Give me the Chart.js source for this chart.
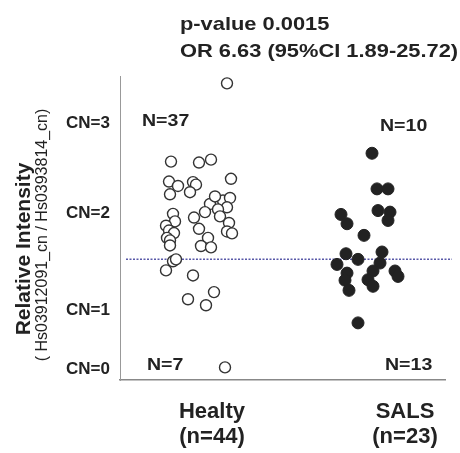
<!DOCTYPE html>
<html>
<head>
<meta charset="utf-8">
<title>Relative Intensity - Healty vs SALS</title>
<script src="https://cdn.jsdelivr.net/npm/chart.js@4.4.0/dist/chart.umd.min.js"></script>
<style>
    html, body { margin: 0; padding: 0; background: #fff; }
    canvas { display: block; }
</style>
</head>
<body>
<canvas id="cnChart" width="460" height="453"></canvas>
<script>
/* ============================================================================
   Data
   ============================================================================ */

const categories = ["Healty", "SALS"];
const groupSizes = [44, 23];
const categoryX = [0.92, 2.85];

// jittered x positions + relative intensity of every sample
const healthyX = [1.07, 0.51, 0.79, 0.91, 0.49, 0.58, 0.73, 0.76, 1.11, 0.50,
                  0.70, 0.96, 0.90, 1.03, 1.10, 1.07, 0.85, 0.98, 0.53, 0.55,
                  0.74, 1.00, 0.46, 0.49, 0.54, 0.79, 1.09, 0.47, 0.50, 1.07,
                  1.12, 0.88, 0.50, 0.81, 0.91, 0.53, 0.56, 0.46, 0.73, 0.94,
                  0.68, 0.86, 1.05, 0.95];
const healthyY = [1.672, 1.268, 1.263, 1.278, 1.165, 1.142, 1.162, 1.149, 1.179, 1.099,
                  1.110, 1.070, 1.049, 1.067, 1.080, 1.032, 1.007, 1.021, 0.998, 0.959,
                  0.979, 0.985, 0.937, 0.912, 0.899, 0.921, 0.951, 0.874, 0.861, 0.907,
                  0.897, 0.874, 0.835, 0.832, 0.825, 0.753, 0.763, 0.706, 0.680, 0.594,
                  0.557, 0.526, 0.205, 1.088];

const salsX = [2.52, 2.57, 2.68, 2.58, 2.70, 2.68, 2.21, 2.27, 2.44, 2.26,
               2.38, 2.62, 2.17, 2.60, 2.27, 2.53, 2.75, 2.25, 2.48, 2.78,
               2.29, 2.53, 2.38];
const salsY = [1.311, 1.127, 1.127, 1.015, 1.007, 0.964, 0.995, 0.947, 0.887, 0.792,
               0.763, 0.801, 0.737, 0.744, 0.692, 0.703, 0.703, 0.655, 0.658, 0.675,
               0.603, 0.624, 0.435];

const cutoff = 0.763;
const cutoffSpan = [0.06, 3.32];

const yTickValues = [0.196, 0.5, 1.0, 1.464];
const yTickLabels = ["CN=0", "CN=1", "CN=2", "CN=3"];

const countAbove = [37, 10];
const countBelow = [7, 13];

const statsText = ["p-value 0.0015", "OR 6.63 (95%CI 1.89-25.72)"];
const axisTitle = "Relative Intensity";
const axisSubtitle = "( Hs03912091_cn / Hs0393814_cn)";

/* ============================================================================
   Helpers
   ============================================================================ */

const FONT = "'Liberation Sans', Arial, Helvetica, sans-serif";
const INK = "#222";

function toPoints(xs, ys) {
    return xs.map((x, i) => ({ x: x, y: ys[i] }));
}

// text in the figure is a little wider than the font, so stretch it a bit
function wideText(ctx, text, x, y, font, sx) {
    ctx.save();
    ctx.translate(x, y);
    ctx.scale(sx, 1);
    ctx.font = font;
    ctx.fillText(text, 0, 0);
    ctx.restore();
}

const annotations = {
    id: "annotations",
    afterDraw(chart) {
        const ctx = chart.ctx;
        const xs = chart.scales.x;
        const ys = chart.scales.y;

        ctx.save();
        ctx.fillStyle = INK;
        ctx.textAlign = "left";
        ctx.textBaseline = "alphabetic";

        // stats on top
        wideText(ctx, statsText[0], 180, 30, "bold 19px " + FONT, 1.15);
        wideText(ctx, statsText[1], 180, 57, "bold 19px " + FONT, 1.15);

        // N counts above / below the cutoff
        const f = "bold 17px " + FONT;
        wideText(ctx, "N=" + countAbove[0], xs.getPixelForValue(0.22), ys.getPixelForValue(1.454), f, 1.15);
        wideText(ctx, "N=" + countBelow[0], xs.getPixelForValue(0.27), ys.getPixelForValue(0.19), f, 1.15);
        wideText(ctx, "N=" + countAbove[1], xs.getPixelForValue(2.60), ys.getPixelForValue(1.428), f, 1.15);
        wideText(ctx, "N=" + countBelow[1], xs.getPixelForValue(2.65), ys.getPixelForValue(0.19), f, 1.15);

        // y axis title (two lines, different sizes)
        ctx.textAlign = "center";
        ctx.textBaseline = "middle";
        ctx.translate(24, 249);
        ctx.rotate(-Math.PI / 2);
        ctx.font = "bold 21px " + FONT;
        ctx.fillText(axisTitle, 0, 0);
        ctx.font = "16px " + FONT;
        ctx.fillText(axisSubtitle, 14, 19);
        ctx.restore();
    }
};

/* ============================================================================
   Chart
   ============================================================================ */

const ctx = document.getElementById("cnChart");

new Chart(ctx, {
    type: "scatter",
    data: {
        datasets: [
            {
                label: categories[0],
                data: toPoints(healthyX, healthyY),
                pointRadius: 5.5,
                pointBackgroundColor: "#fff",
                pointBorderColor: "#333",
                pointBorderWidth: 1.4
            },
            {
                label: categories[1],
                data: toPoints(salsX, salsY),
                pointRadius: 6,
                pointBackgroundColor: "#222",
                pointBorderColor: "#222",
                pointBorderWidth: 1
            },
            {
                type: "line",
                label: "cutoff",
                data: [{ x: cutoffSpan[0], y: cutoff }, { x: cutoffSpan[1], y: cutoff }],
                borderColor: "#5858a8",
                borderWidth: 1.5,
                borderDash: [2, 1.5],
                pointRadius: 0,
                clip: false
            }
        ]
    },
    options: {
        responsive: false,
        animation: false,
        layout: { padding: { top: 76, right: 15, left: 0, bottom: 0 } },
        plugins: {
            legend: { display: false },
            tooltip: { enabled: false },
            title: { display: false }
        },
        scales: {
            x: {
                type: "linear",
                min: 0,
                max: 3.25,
                grid: { display: false, drawTicks: false },
                border: { display: true, color: "#888", width: 1.5 },
                afterFit: (scale) => { scale.height = 73; },
                afterBuildTicks: (scale) => {
                    scale.ticks = categoryX.map(v => ({ value: v }));
                },
                ticks: {
                    padding: 19,
                    color: INK,
                    font: { family: FONT, size: 22, weight: "bold", lineHeight: 1.15 },
                    callback: (value, i) => [categories[i], "(n=" + groupSizes[i] + ")"]
                }
            },
            y: {
                type: "linear",
                min: 0.14,
                max: 1.71,
                grid: { display: false, drawTicks: false },
                border: { display: true, color: "#999", width: 1 },
                afterFit: (scale) => { scale.width = 120; },
                afterBuildTicks: (scale) => {
                    scale.ticks = yTickValues.map(v => ({ value: v }));
                },
                ticks: {
                    padding: 10,
                    color: INK,
                    font: { family: FONT, size: 17, weight: "bold" },
                    callback: (value, i) => yTickLabels[i]
                }
            }
        }
    },
    plugins: [annotations]
});
</script>
</body>
</html>
